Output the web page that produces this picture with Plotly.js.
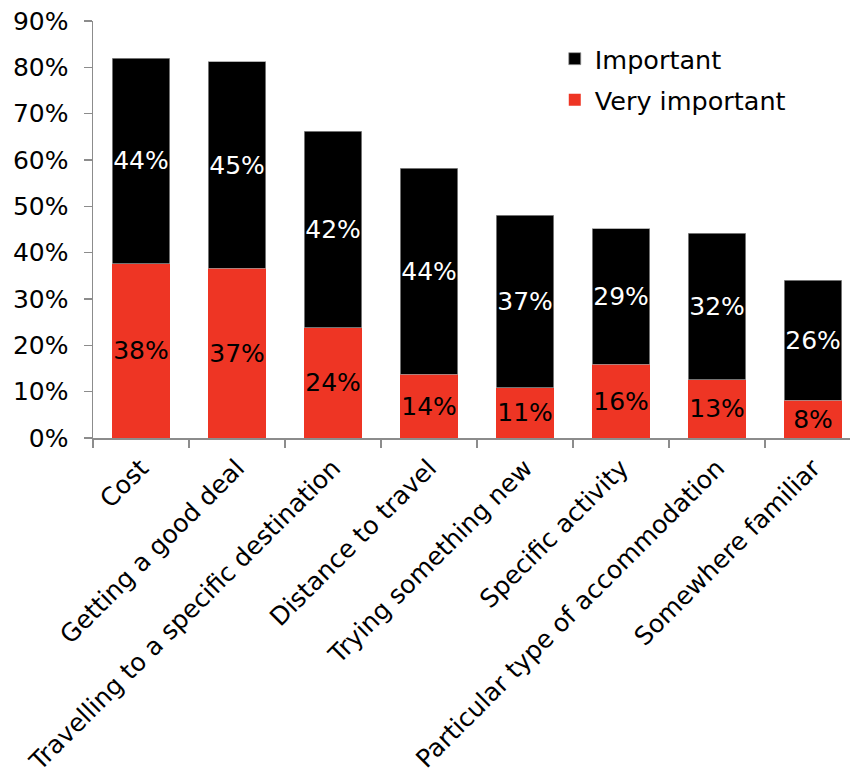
<!DOCTYPE html>
<html>
<head>
<meta charset="utf-8">
<script src="https://cdn.plot.ly/plotly-3.0.1.min.js"></script>
<style>
html,body{margin:0;padding:0;background:#fff;}
#chart{width:850px;height:782px;}
</style>
</head>
<body>
<div id="chart"></div>
<script>
const categories = [
  "Cost",
  "Getting a good deal",
  "Travelling to a specific destination",
  "Distance to travel",
  "Trying something new",
  "Specific activity",
  "Particular type of accommodation",
  "Somewhere familiar"
];
const veryImportant = [37.6, 36.6, 23.8, 13.8, 10.8, 15.9, 12.6, 8.2];
const important     = [44.4, 44.6, 42.4, 44.4, 37.3, 29.3, 31.6, 25.8];
const yTicks = [0, 10, 20, 30, 40, 50, 60, 70, 80, 90];

const FONT = "'DejaVu Sans', 'Liberation Sans', Arial, sans-serif";
const RED = "#EE3524";
const AXIS = "#8c8c8c";

const traces = [
  {
    type: "bar",
    name: "Very important",
    legendgroup: "b",
    legendrank: 2,
    x: categories,
    y: veryImportant,
    marker: {color: RED},
    texttemplate: "%{y:.0f}%",
    textposition: "inside",
    insidetextanchor: "middle",
    textangle: 0,
    constraintext: "none",
    textfont: {family: FONT, size: 25, color: "#000"},
    hoverinfo: "skip"
  },
  {
    type: "bar",
    name: "Important",
    legendgroup: "a",
    legendrank: 1,
    x: categories,
    y: important,
    marker: {color: "#000", line: {color: "#9a9a9a", width: 0.75}},
    texttemplate: "%{y:.0f}%",
    textposition: "inside",
    insidetextanchor: "middle",
    textangle: 0,
    constraintext: "none",
    textfont: {family: FONT, size: 25, color: "#fff"},
    hoverinfo: "skip"
  }
];

const layout = {
  width: 850,
  height: 782,
  margin: {l: 93, r: 0, t: 21, b: 344, pad: 0},
  paper_bgcolor: "#fff",
  plot_bgcolor: "#fff",
  barmode: "stack",
  bargap: 0.4,
  font: {family: FONT, size: 25, color: "#000"},
  showlegend: true,
  legend: {
    x: 0.610, y: 0.965, xanchor: "left", yanchor: "top",
    traceorder: "grouped",
    tracegroupgap: 5,
    bgcolor: "rgba(0,0,0,0)",
    font: {family: FONT, size: 25.5, color: "#000"}
  },
  xaxis: {
    type: "category",
    range: [-0.5, 7.385],
    tickangle: -45,
    showline: true,
    linecolor: AXIS,
    linewidth: 1.5,
    ticks: "outside",
    tickson: "boundaries",
    ticklen: 8,
    tickcolor: AXIS,
    tickwidth: 1.5,
    ticklabelstandoff: 4,
    showgrid: false,
    zeroline: false,
    tickfont: {family: FONT, size: 25, color: "#000"}
  },
  yaxis: {
    range: [0, 90],
    tickvals: yTicks,
    ticktext: yTicks.map(v => v + "%"),
    showline: true,
    linecolor: AXIS,
    linewidth: 1.5,
    ticks: "outside",
    ticklen: 8,
    tickcolor: AXIS,
    tickwidth: 1.5,
    ticklabelstandoff: 10,
    showgrid: false,
    zeroline: false,
    tickfont: {family: FONT, size: 25, color: "#000"}
  }
};

Plotly.newPlot("chart", traces, layout, {displayModeBar: false, staticPlot: true});
</script>
</body>
</html>
